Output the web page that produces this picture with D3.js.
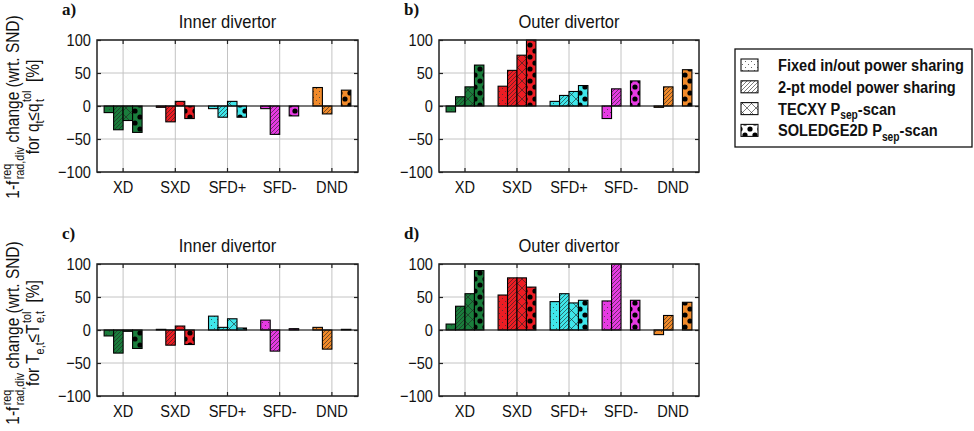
<!DOCTYPE html>
<html>
<head>
<meta charset="utf-8">
<script src="https://cdn.jsdelivr.net/npm/d3@7"></script>
<style>
  body { margin: 0; background: #fff; }
  svg { display: block; }
  text { white-space: pre; }
</style>
</head>
<body>
<svg></svg>
<script>
var categories = ['XD', 'SXD', 'SFD+', 'SFD-', 'DND']
var seriesNames = ['Fixed in/out power sharing', '2-pt model power sharing', 'TECXY', 'SOLEDGE2D']
var yTicks = [-100, -50, 0, 50, 100]

// one row per series: fixed, 2-pt, TECXY, SOLEDGE2D (null = no bar)
var innerQt = [
  [-10, -2, -4, -4, 28],
  [-36, -24, -17, -43, -12],
  [-22, 7, 7, null, null],
  [-40, -19, -17, -15, 24]
]
var outerQt = [
  [-9, 30, 7, -19, -2],
  [14, 54, 16, 26, 29],
  [29, 77, 22, null, null],
  [62, 100, 31, 38, 55]
]
var innerTe = [
  [-9, 1, 21, 15, 4],
  [-35, -23, 4, -32, -29],
  [-2, 6, 17, null, null],
  [-28, -22, 3, 2, 1]
]
var outerTe = [
  [9, 53, 43, 44, -7],
  [36, 79, 55, 100, 22],
  [55, 79, 41, null, null],
  [90, 65, 45, 45, 42]
]

var catColors = ['#1a7d3c', '#ec1d24', '#3fe6ea', '#e63ae2', '#f18a2a']
var patternTypes = ['dots', 'hatch', 'cross', 'blobs']

var width = 974
var height = 431
var font = "'Liberation Sans', Arial, sans-serif"
var narrow = 0.86  // squeeze factor to mimic the condensed font

var svg = d3.select("svg")
  .attr("width", width)
  .attr("height", height)
  .style("font-family", font)

var defs = svg.append("defs")

// build a pattern for every (colour, type) pair
function makePattern(id, color, type) {
  var p
  if (type == 'dots') {
    p = defs.append("pattern").attr("id", id).attr("patternUnits", "userSpaceOnUse")
      .attr("width", 6).attr("height", 6)
    p.append("rect").attr("width", 6).attr("height", 6).attr("fill", color)
    p.append("circle").attr("cx", 1.5).attr("cy", 1.5).attr("r", 0.5).attr("fill", "#333")
    p.append("circle").attr("cx", 4.5).attr("cy", 4.5).attr("r", 0.5).attr("fill", "#333")
  } else if (type == 'hatch') {
    p = defs.append("pattern").attr("id", id).attr("patternUnits", "userSpaceOnUse")
      .attr("width", 4).attr("height", 4)
    p.append("rect").attr("width", 4).attr("height", 4).attr("fill", color)
    p.append("path").attr("d", "M-1,5 L5,-1 M-1,1 L1,-1 M3,5 L5,3")
      .attr("stroke", "#222").attr("stroke-width", 0.6)
  } else if (type == 'cross') {
    p = defs.append("pattern").attr("id", id).attr("patternUnits", "userSpaceOnUse")
      .attr("width", 9).attr("height", 9)
    p.append("rect").attr("width", 9).attr("height", 9).attr("fill", color)
    p.append("path").attr("d", "M0,0 L9,9 M9,0 L0,9")
      .attr("stroke", "#222").attr("stroke-width", 0.6)
  } else {
    p = defs.append("pattern").attr("id", id).attr("patternUnits", "userSpaceOnUse")
      .attr("width", 10).attr("height", 12)
    p.append("rect").attr("width", 10).attr("height", 12).attr("fill", color)
    p.append("circle").attr("cx", 5).attr("cy", 3).attr("r", 2.6).attr("fill", "#000")
    p.append("circle").attr("cx", 0).attr("cy", 9).attr("r", 2.6).attr("fill", "#000")
    p.append("circle").attr("cx", 10).attr("cy", 9).attr("r", 2.6).attr("fill", "#000")
  }
}
catColors.forEach(function (c, ci) {
  patternTypes.forEach(function (t) { makePattern("p" + ci + t, c, t) })
})
patternTypes.forEach(function (t) { makePattern("pw" + t, "#fff", t) })

// text with stacked super/subscripts, parts are strings or {sup, sub}
function rich(txt, parts, fs) {
  var base = 0, pendingDx = 0
  parts.forEach(function (p) {
    if (typeof p === 'string') {
      txt.append("tspan").attr("dy", -base).attr("dx", pendingDx).text(p)
      base = 0; pendingDx = 0
    } else {
      var sw = 0, bw = 0
      if (p.sup) {
        var s = txt.append("tspan").attr("font-size", fs * 0.7)
          .attr("dy", -fs * 0.42 - base).attr("dx", pendingDx + 1.5).text(p.sup)
        base = -fs * 0.42; pendingDx = 0
        sw = s.node().getComputedTextLength()
      }
      if (p.sub) {
        var b = txt.append("tspan").attr("font-size", fs * 0.7)
          .attr("dy", fs * 0.28 - base).attr("dx", p.sup ? -sw : pendingDx).text(p.sub)
        base = fs * 0.28; pendingDx = 0
        bw = b.node().getComputedTextLength()
      }
      if (p.sup && p.sub && sw > bw) pendingDx = sw - bw
    }
  })
}

var panels = [
  { data: innerQt, label: 'a)', title: 'Inner divertor', x0: 97, x1: 358, y0: 40, y1: 172 },
  { data: outerQt, label: 'b)', title: 'Outer divertor', x0: 439, x1: 699, y0: 40, y1: 172 },
  { data: innerTe, label: 'c)', title: 'Inner divertor', x0: 97, x1: 358, y0: 264, y1: 396 },
  { data: outerTe, label: 'd)', title: 'Outer divertor', x0: 439, x1: 699, y0: 264, y1: 396 }
]

panels.forEach(function (pn) {
  var x = d3.scaleBand().domain(categories).range([pn.x0, pn.x1]).padding(0)
  var groupW = x.bandwidth() * 4 / 5.5
  var xs = d3.scaleBand().domain(d3.range(4)).range([-groupW / 2, groupW / 2]).padding(0)
  var y = d3.scaleLinear().domain([-100, 100]).range([pn.y1, pn.y0])
  var g = svg.append("g")

  // grid
  g.selectAll(".gy").data(yTicks).enter().append("line")
    .attr("x1", pn.x0).attr("x2", pn.x1)
    .attr("y1", function (d) { return y(d) }).attr("y2", function (d) { return y(d) })
    .attr("stroke", "#c4c4c4").attr("stroke-width", 1)
  g.selectAll(".gx").data(categories).enter().append("line")
    .attr("x1", function (d) { return x(d) + x.bandwidth() / 2 })
    .attr("x2", function (d) { return x(d) + x.bandwidth() / 2 })
    .attr("y1", pn.y0).attr("y2", pn.y1)
    .attr("stroke", "#c4c4c4").attr("stroke-width", 1)

  // bars
  var bars = []
  pn.data.forEach(function (row, si) {
    row.forEach(function (v, ci) {
      if (v !== null) bars.push({ s: si, c: ci, v: v })
    })
  })
  g.selectAll(".bar").data(bars).enter().append("rect")
    .attr("x", function (d) { return x(categories[d.c]) + x.bandwidth() / 2 + xs(d.s) })
    .attr("width", xs.bandwidth())
    .attr("y", function (d) { return y(Math.max(0, d.v)) })
    .attr("height", function (d) { return Math.abs(y(d.v) - y(0)) })
    .attr("fill", function (d) { return "url(#p" + d.c + patternTypes[d.s] + ")" })
    .attr("stroke", "#000").attr("stroke-width", 1.1)

  // zero line
  g.append("line").attr("x1", pn.x0).attr("x2", pn.x1)
    .attr("y1", y(0)).attr("y2", y(0)).attr("stroke", "#111").attr("stroke-width", 1.2)

  // axes
  var ax = g.append("g").attr("transform", "translate(" + pn.x0 + ",0)")
    .call(d3.axisLeft(y).tickValues(yTicks).tickSize(-4).tickPadding(7))
  var axR = g.append("g").attr("transform", "translate(" + pn.x1 + ",0)")
    .call(d3.axisRight(y).tickValues(yTicks).tickSize(-4).tickFormat(""))
  var axT = g.append("g").attr("transform", "translate(0," + pn.y0 + ")")
    .call(d3.axisTop(x).tickSize(-4).tickFormat(""))
  var axB = g.append("g").attr("transform", "translate(0," + pn.y1 + ")")
    .call(d3.axisBottom(x).tickSize(-4).tickPadding(9))
  ;[ax, axR, axT, axB].forEach(function (a) {
    a.select(".domain").remove()
    a.selectAll(".tick line").attr("stroke", "#222").attr("stroke-width", 1.2)
    a.selectAll("text").attr("font-family", font).attr("font-size", 17).attr("fill", "#111")
      .attr("transform", "scale(" + narrow + ",1)")
  })

  g.append("rect").attr("x", pn.x0).attr("y", pn.y0)
    .attr("width", pn.x1 - pn.x0).attr("height", pn.y1 - pn.y0)
    .attr("fill", "none").attr("stroke", "#222").attr("stroke-width", 1.5)

  // titles
  g.append("text")
    .attr("transform", "translate(" + (pn.x0 + pn.x1) / 2 + "," + (pn.y0 - 12) + ") scale(0.92,1)")
    .attr("text-anchor", "middle").attr("font-size", 18).attr("fill", "#111").text(pn.title)
  g.append("text").attr("x", pn.x0 - 35).attr("y", pn.y0 - 25)
    .attr("font-family", "'Liberation Serif', 'Times New Roman', serif")
    .attr("font-weight", "bold").attr("font-size", 17).attr("fill", "#111").text(pn.label)
})

// y axis labels
var yLabels = [
  { cy: 107, line2: ['for q', { sub: 't' }, '\u2264q', { sup: 'tol', sub: 't' }, '  [%]'] },
  { cy: 333, line2: ['for T', { sub: 'e,t' }, '\u2264T', { sup: 'tol', sub: 'e,t' }, '  [%]'] }
]
yLabels.forEach(function (yl) {
  var t1 = svg.append("text")
    .attr("transform", "translate(19," + yl.cy + ") rotate(-90) scale(" + narrow + ",1)")
    .attr("text-anchor", "middle").attr("font-size", 18).attr("fill", "#111")
  rich(t1, ['1-f', { sup: 'req', sub: 'rad,div' }, ' change (wrt. SND)'], 18)
  var t2 = svg.append("text")
    .attr("transform", "translate(39," + yl.cy + ") rotate(-90) scale(" + narrow + ",1)")
    .attr("text-anchor", "middle").attr("font-size", 18).attr("fill", "#111")
  rich(t2, yl.line2, 18)
})

// legend
var lg = svg.append("g")
lg.append("rect").attr("x", 735).attr("y", 49).attr("width", 237).attr("height", 98)
  .attr("fill", "#fff").attr("stroke", "#111").attr("stroke-width", 1.3)
var legendLabels = [
  ['Fixed in/out power sharing'],
  ['2-pt model power sharing'],
  ['TECXY P', { sub: 'sep' }, '-scan'],
  ['SOLEDGE2D P', { sub: 'sep' }, '-scan']
]
legendLabels.forEach(function (lbl, i) {
  var cy = 65 + i * 21.8
  lg.append("rect").attr("x", 741).attr("y", cy - 6).attr("width", 17).attr("height", 12)
    .attr("fill", "url(#pw" + patternTypes[i] + ")").attr("stroke", "#111").attr("stroke-width", 1.1)
  var t = lg.append("text").attr("transform", "translate(778," + (cy + 6) + ") scale(" + narrow + ",1)")
    .attr("font-size", 17).attr("font-weight", "bold").attr("fill", "#111")
  rich(t, lbl, 17)
})
</script>
</body>
</html>
